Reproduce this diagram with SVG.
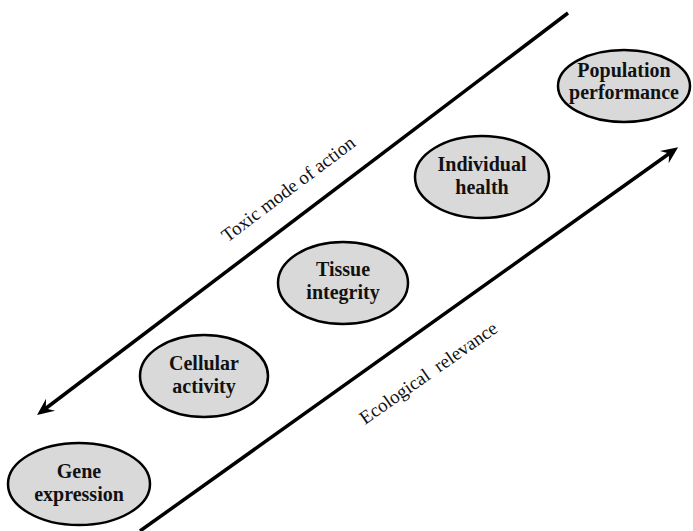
<svg xmlns="http://www.w3.org/2000/svg" width="693" height="531" viewBox="0 0 693 531">
<style>
.node ellipse{fill:#d9d9d9;stroke:#000;stroke-width:2.5}
.node text{font-family:"Liberation Serif","Times New Roman",serif;font-weight:bold;font-size:20px;fill:#111;text-anchor:middle}
.conn line{stroke:#000;stroke-width:3.5}
.lbl{font-family:"Liberation Serif","Times New Roman",serif;font-size:19px;fill:#111;text-anchor:middle}
</style>
<defs>
<marker id="ah" markerUnits="userSpaceOnUse" markerWidth="30" markerHeight="30" refX="0" refY="0" orient="auto" overflow="visible">
<path d="M10,0 L-7,-7.5 L-1,0 L-7,7.5 Z" fill="#000"/>
</marker>
</defs>
<rect width="693" height="531" fill="#fff"/>
<g class="conn" id="connectors">
<line x1="568" y1="13" x2="45" y2="409" marker-end="url(#ah)"/>
<line x1="140" y1="531" x2="670" y2="153" marker-end="url(#ah)"/>
</g>
<text class="lbl" transform="translate(292,194) rotate(-37)">Toxic mode of action</text>
<text class="lbl" transform="translate(432,378) rotate(-35)" xml:space="preserve">Ecological  relevance</text>
<g class="node" id="gene">
<ellipse cx="79" cy="484" rx="71" ry="41"/>
<text x="79" y="478">Gene</text>
<text x="79" y="501">expression</text>
</g>
<g class="node" id="cellular">
<ellipse cx="204" cy="376" rx="64" ry="41"/>
<text x="204" y="370">Cellular</text>
<text x="204" y="393">activity</text>
</g>
<g class="node" id="tissue">
<ellipse cx="343" cy="283" rx="65" ry="41"/>
<text x="343" y="276">Tissue</text>
<text x="343" y="299">integrity</text>
</g>
<g class="node" id="individual">
<ellipse cx="482" cy="177" rx="67" ry="41"/>
<text x="482" y="171">Individual</text>
<text x="482" y="194">health</text>
</g>
<g class="node" id="population">
<ellipse cx="624" cy="86" rx="66" ry="36"/>
<text x="624" y="77">Population</text>
<text x="624" y="99">performance</text>
</g>
</svg>
